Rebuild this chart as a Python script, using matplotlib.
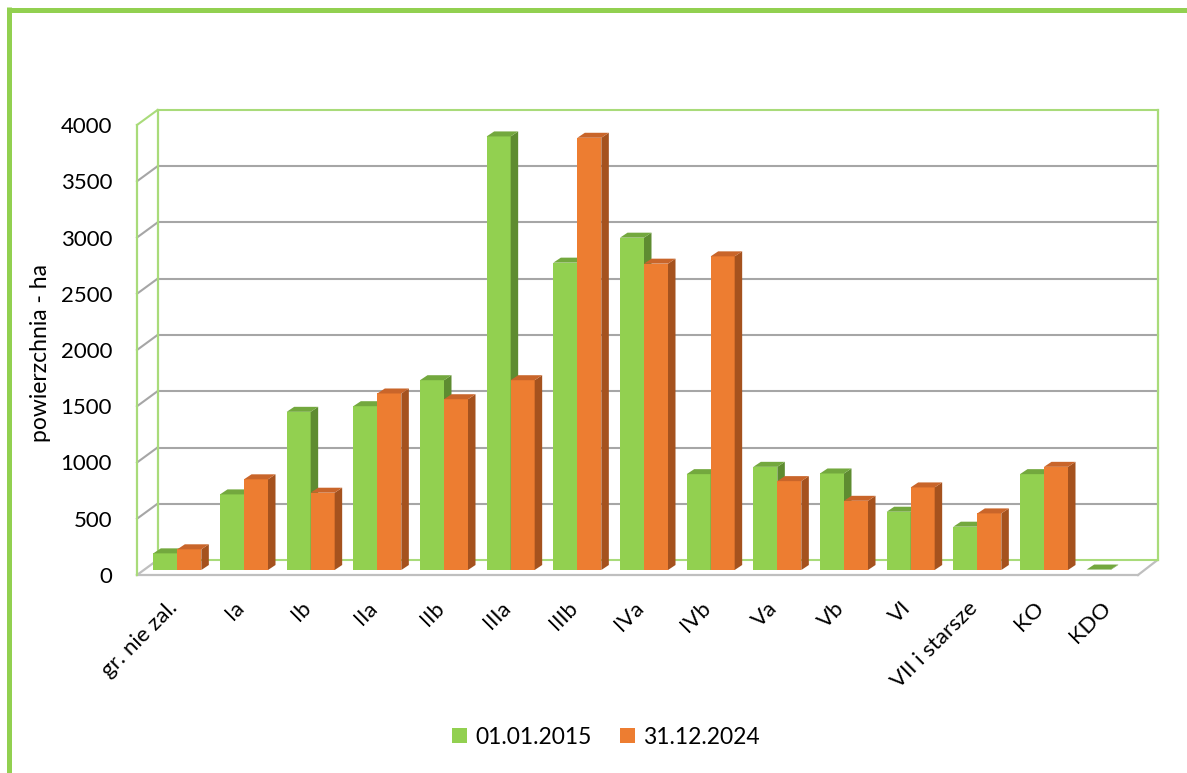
import matplotlib
matplotlib.use("Agg")
import matplotlib.pyplot as plt
from matplotlib.patches import Polygon, Patch
from matplotlib.lines import Line2D
from matplotlib.transforms import ScaledTranslation
import numpy as np

plt.rcParams['font.family'] = ['Lato', 'DejaVu Sans']

# Age classes of stands and their area (ha)
categories = ['gr. nie zal.', 'Ia', 'Ib', 'IIa', 'IIb', 'IIIa', 'IIIb', 'IVa', 'IVb',
              'Va', 'Vb', 'VI', 'VII i starsze', 'KO', 'KDO']
area_2015 = [148, 672, 1406, 1456, 1687, 3854, 2732, 2954, 852, 917, 858, 518, 385, 852, 4]
area_2024 = [184, 806, 687, 1569, 1518, 1687, 3842, 2723, 2788, 790, 615, 734, 503, 917, 0]
series_labels = ['01.01.2015', '31.12.2024']
y_ticks = [0, 500, 1000, 1500, 2000, 2500, 3000, 3500, 4000]
y_label = 'powierzchnia - ha'

GREEN = '#92D050'
GREEN_SIDE = '#5E8C31'
GREEN_TOP = '#73A83E'
ORANGE = '#ED7D31'
ORANGE_SIDE = '#A5521E'
ORANGE_TOP = '#C9652A'
WALL = '#A9DB7A'
GRID = '#A6A6A6'

W, H = 1187, 773
fig = plt.figure(figsize=(W / 100, H / 100), dpi=100)
fig.patch.set_facecolor('white')

# Plane in which the bars stand; walls are offset from it in depth
ax = fig.add_axes([144 / W, (H - 570) / H, 1000 / W, 450 / H])
ax.set_xlim(-0.5, len(categories) - 0.5)
ax.set_ylim(y_ticks[0], y_ticks[-1])
ax.patch.set_visible(False)
for s in ax.spines.values():
    s.set_visible(False)

fig.canvas.draw()


def shift(x, y, dxp, dyp):
    """Move a data point by a depth offset given in pixels."""
    d = ax.transData.transform((x, y)) + np.array([dxp, dyp])
    return tuple(ax.transData.inverted().transform(d))


FRONT = (-7, -5)     # front edge of the floor / left wall
BACK = (13.5, 10)    # back wall
x_lo, x_hi = ax.get_xlim()
y_lo, y_hi = ax.get_ylim()

# back wall
bw = [shift(x_lo, y_lo, *BACK), shift(x_hi, y_lo, *BACK),
      shift(x_hi, y_hi, *BACK), shift(x_lo, y_hi, *BACK)]
ax.add_patch(Polygon(bw, closed=True, facecolor='white', edgecolor='none', zorder=0, clip_on=False))

# left wall
lw = [shift(x_lo, y_lo, *FRONT), shift(x_lo, y_hi, *FRONT),
      shift(x_lo, y_hi, *BACK), shift(x_lo, y_lo, *BACK)]
ax.add_patch(Polygon(lw, closed=True, facecolor='white', edgecolor='none', zorder=0, clip_on=False))

# floor
fl = [shift(x_lo, y_lo, *FRONT), shift(x_hi, y_lo, -6, -5),
      shift(x_hi, y_lo, *BACK), shift(x_lo, y_lo, *BACK)]
ax.add_patch(Polygon(fl, closed=True, facecolor='white', edgecolor='none', zorder=0, clip_on=False))
for a, b in [(fl[0], fl[1]), (fl[1], fl[2]), (fl[0], fl[3])]:
    ax.add_line(Line2D([a[0], b[0]], [a[1], b[1]], color='#BFBFBF', lw=1.6, zorder=1, clip_on=False))

# gridlines on the back and left walls
for v in y_ticks:
    p_front = shift(x_lo, v, *FRONT)
    p_back = shift(x_lo, v, *BACK)
    p_right = shift(x_hi, v, *BACK)
    inner = 0 < v < y_hi
    col = GRID if inner else WALL
    if v > 0:
        ax.add_line(Line2D([p_front[0], p_back[0]], [p_front[1], p_back[1]],
                           color=col, lw=1.5, zorder=1, clip_on=False))
    ax.add_line(Line2D([p_back[0], p_right[0]], [p_back[1], p_right[1]],
                       color=col, lw=1.5, zorder=1, clip_on=False))

# vertical wall edges
for (ox, oy), xx in [(FRONT, x_lo), (BACK, x_lo), (BACK, x_hi)]:
    a = shift(xx, y_lo, ox, oy)
    b = shift(xx, y_hi, ox, oy)
    ax.add_line(Line2D([a[0], b[0]], [a[1], b[1]], color=WALL, lw=1.6, zorder=1, clip_on=False))

# bars with side and top faces
bw_ = 0.36
x = np.arange(len(categories))
dx = shift(0, 0, 7.5, 5)[0] - shift(0, 0, 0, 0)[0]
dy = shift(0, 0, 7.5, 5)[1] - shift(0, 0, 0, 0)[1]

series = [(area_2015, -bw_, GREEN, GREEN_SIDE, GREEN_TOP),
          (area_2024, 0.0, ORANGE, ORANGE_SIDE, ORANGE_TOP)]
z = 3
for i in range(len(categories)):
    for vals, off, c_front, c_side, c_top in series:
        h = vals[i]
        x0 = x[i] + off
        x1 = x0 + bw_
        ax.bar(x0, h, width=bw_, align='edge', color=c_front, edgecolor='none', zorder=z, clip_on=False)
        if h > 0:
            ax.add_patch(Polygon([(x1, 0), (x1, h), (x1 + dx, h + dy), (x1 + dx, dy)], closed=True,
                                 facecolor=c_side, edgecolor='none', zorder=z, clip_on=False))
            ax.add_patch(Polygon([(x0, h), (x1, h), (x1 + dx, h + dy), (x0 + dx, h + dy)], closed=True,
                                 facecolor=c_top, edgecolor='none', zorder=z, clip_on=False))
        z += 0.01

# axis labels
ax.set_yticks(y_ticks)
ax.set_yticklabels([str(t) for t in y_ticks], fontsize=16, color='black')
ax.tick_params(axis='y', length=0, pad=23)
for t in ax.get_yticklabels():
    t.set_transform(t.get_transform() + ScaledTranslation(0, -0.05, fig.dpi_scale_trans))

ax.set_xticks(x)
ax.set_xticklabels(categories, fontsize=16, color='black')
ax.tick_params(axis='x', length=0, pad=20)
for t in ax.get_xticklabels():
    t.set_rotation(45)
    t.set_ha('right')
    t.set_va('top')
    t.set_rotation_mode('anchor')
    t.set_transform(t.get_transform() + ScaledTranslation(-0.1, 0, fig.dpi_scale_trans))

fig.text(41 / W, 1 - 353 / H, y_label, rotation=90, ha='center', va='center', fontsize=16.5)

# legend
handles = [Patch(facecolor=GREEN, edgecolor='none'), Patch(facecolor=ORANGE, edgecolor='none')]
fig.legend(handles, series_labels, loc='center', bbox_to_anchor=(606 / W, 1 - 737 / H), ncol=2,
           frameon=False, fontsize=16.5, handlelength=0.65, handleheight=0.65,
           handletextpad=0.35, columnspacing=1.25)

# outer frame
fig.add_artist(Line2D([7 / W, 1], [1 - 9.5 / H, 1 - 9.5 / H], transform=fig.transFigure,
                      color=GREEN, lw=3.6, solid_capstyle='butt'))
fig.add_artist(Line2D([9.5 / W, 9.5 / W], [0, 1 - 7 / H], transform=fig.transFigure,
                      color=GREEN, lw=3.6, solid_capstyle='butt'))

fig.savefig('out.png', dpi=100, facecolor='white')
